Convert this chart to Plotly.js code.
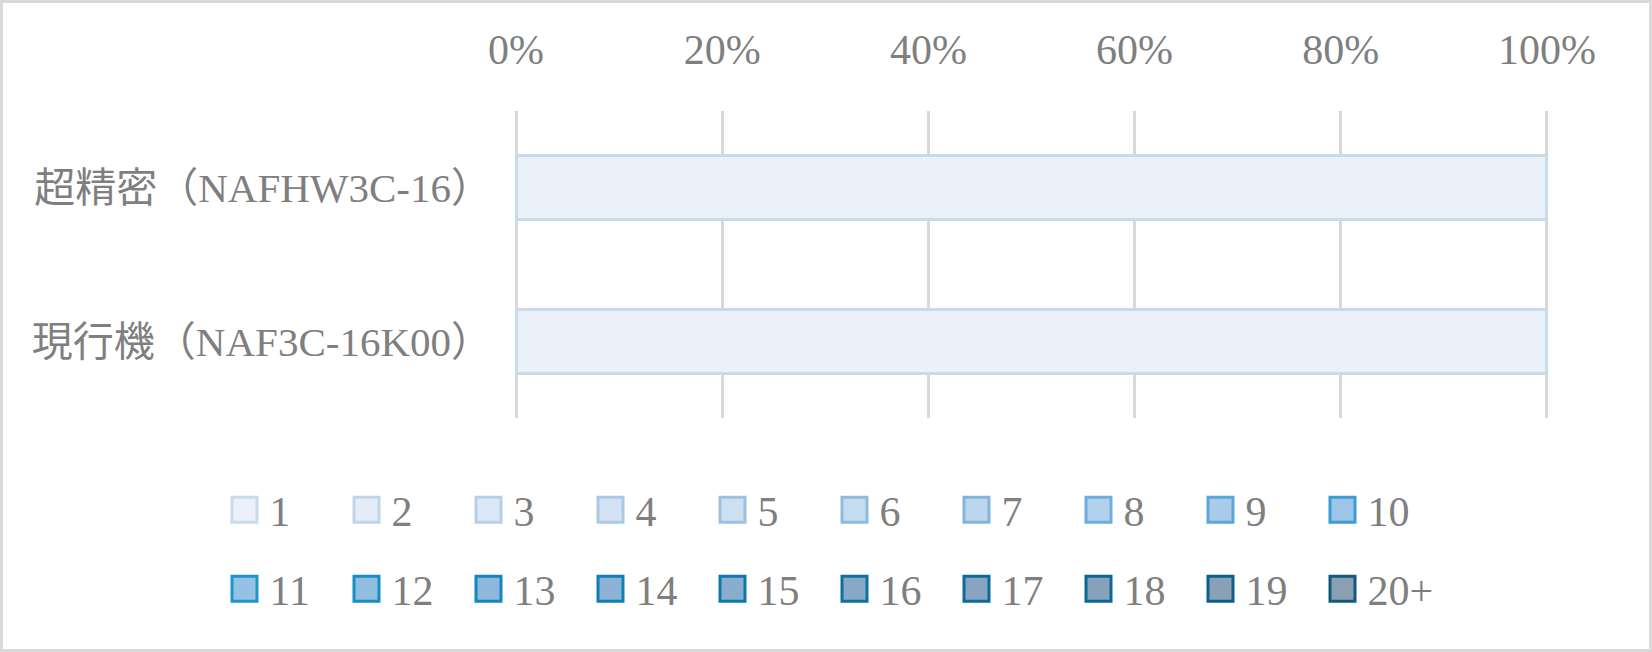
<!DOCTYPE html>
<html>
<head>
<meta charset="utf-8">
<script src="https://cdn.plot.ly/plotly-3.0.1.min.js"></script>
<style>html,body{margin:0;padding:0;background:#fff;}#chart{width:1652px;height:652px;}</style>
</head>
<body>
<div id="chart"></div>
<script>
// categories (top to bottom)
const categories = ['超精密（NAFHW3C-16）', '現行機（NAF3C-16K00）'];
// series names
const seriesNames = ['1','2','3','4','5','6','7','8','9','10','11','12','13','14','15','16','17','18','19','20+'];
// share (%) of each series per category
const s1  = [100, 100];
const s2  = [0, 0];
const s3  = [0, 0];
const s4  = [0, 0];
const s5  = [0, 0];
const s6  = [0, 0];
const s7  = [0, 0];
const s8  = [0, 0];
const s9  = [0, 0];
const s10 = [0, 0];
const s11 = [0, 0];
const s12 = [0, 0];
const s13 = [0, 0];
const s14 = [0, 0];
const s15 = [0, 0];
const s16 = [0, 0];
const s17 = [0, 0];
const s18 = [0, 0];
const s19 = [0, 0];
const s20 = [0, 0];
const seriesValues = [s1,s2,s3,s4,s5,s6,s7,s8,s9,s10,s11,s12,s13,s14,s15,s16,s17,s18,s19,s20];
const tickVals = [0, 20, 40, 60, 80, 100];
const tickText = ['0%', '20%', '40%', '60%', '80%', '100%'];

const fills = ['#ebf1f9','#e3ecf7','#dce8f5','#d4e3f3','#cde0f1','#c5dbef','#bcd6ee','#b2d1ec','#a8cbe9','#9dc5e7',
               '#95c1e5','#91bde1','#8eb7db','#8cb2d5','#8aadce','#88a8c7','#87a4c0','#87a1bb','#89a0b7','#8b9fb3'];
const lines = ['#c8dbea','#bfd6ea','#b5d0e7','#a9c9e4','#9cc2e0','#90bbdd','#82b5da','#6eaedb','#5ca7d9','#3c9dd3',
               '#1c96cd','#178ec4','#1387bd','#107eb3','#0e78aa','#0c71a0','#0b6c98','#0a6790','#0a6088','#105a7c'];

const FONT = 'Liberation Serif, "Noto Sans CJK JP", serif';
const GRAY = '#7f7f7f';

const traces = seriesValues.map((vals, i) => ({
  type: 'bar',
  orientation: 'h',
  name: seriesNames[i],
  y: categories,
  x: vals,
  marker: {color: fills[i], line: {color: lines[i], width: vals.map(v => v > 0 ? 3 : 0)}},
  legend: i < 10 ? 'legend' : 'legend2',
  hoverinfo: 'skip'
}));

const L = 514, R = 1549, T = 111, B = 418;
const W = 1652, H = 652;
const pw = R - L, ph = B - T;
const px2x = v => (v - L) / pw;
const px2y = v => (B - v) / ph;

const legendCommon = {
  orientation: 'h',
  xanchor: 'left',
  yanchor: 'middle',
  font: {family: FONT, size: 42, color: GRAY},
  bgcolor: 'rgba(0,0,0,0)',
  itemwidth: 40,
  entrywidth: 67,
  entrywidthmode: 'pixels',
  traceorder: 'normal',
  itemclick: false,
  itemdoubleclick: false
};

const layout = {
  width: W, height: H,
  margin: {l: L, r: W - R, t: T, b: H - B, pad: 0},
  paper_bgcolor: '#fff',
  plot_bgcolor: '#fff',
  barmode: 'stack',
  bargap: 0.583,
  showlegend: true,
  font: {family: FONT, color: GRAY},
  xaxis: {
    side: 'top',
    range: [-0.2, 100.2],
    tickvals: tickVals,
    ticktext: tickText,
    showgrid: true,
    gridcolor: '#d9d9d9',
    gridwidth: 3,
    zeroline: false,
    showline: false,
    ticks: '',
    ticklabelstandoff: 38,
    tickfont: {family: FONT, size: 42, color: GRAY},
    fixedrange: true
  },
  yaxis: {
    autorange: 'reversed',
    showgrid: false,
    zeroline: false,
    showline: false,
    ticks: '',
    ticklabelstandoff: 21,
    tickfont: {family: FONT, size: 41, color: GRAY},
    fixedrange: true
  },
  legend: Object.assign({}, legendCommon, {x: px2x(219.5), y: px2y(510)}),
  legend2: Object.assign({}, legendCommon, {x: px2x(219.5), y: px2y(589)}),
  shapes: [{
    type: 'rect', xref: 'paper', yref: 'paper',
    x0: px2x(1.5), x1: px2x(W - 1.5), y0: px2y(H - 1.5), y1: px2y(1.5),
    line: {color: '#d9d9d9', width: 3}, fillcolor: 'rgba(0,0,0,0)', layer: 'below'
  }]
};

function fixSwatches(gd) {
  // enlarge legend swatches and give them their outline colour
  const paths = gd.querySelectorAll('.legendpoints path');
  paths.forEach((p, k) => {
    let idx = -1;
    const g = p.closest('.traces');
    if (g) {
      const t = g.querySelector('.legendtext');
      if (t) idx = seriesNames.indexOf(t.textContent.trim());
    }
    if (idx < 0) idx = k;
    p.setAttribute('d', 'M12.5,12.5H-12.5V-12.5H12.5Z');
    if (idx >= 0 && idx < fills.length) {
      p.style.fill = fills[idx];
      p.style.stroke = lines[idx];
    }
    p.style.strokeWidth = '3px';
    p.style.strokeOpacity = '1';
  });
}

Plotly.newPlot('chart', traces, layout, {displayModeBar: false, staticPlot: true}).then(gd => {
  fixSwatches(gd);
  gd.on('plotly_afterplot', () => fixSwatches(gd));
  setTimeout(() => fixSwatches(gd), 50);
  setTimeout(() => fixSwatches(gd), 300);
});
</script>
</body>
</html>
